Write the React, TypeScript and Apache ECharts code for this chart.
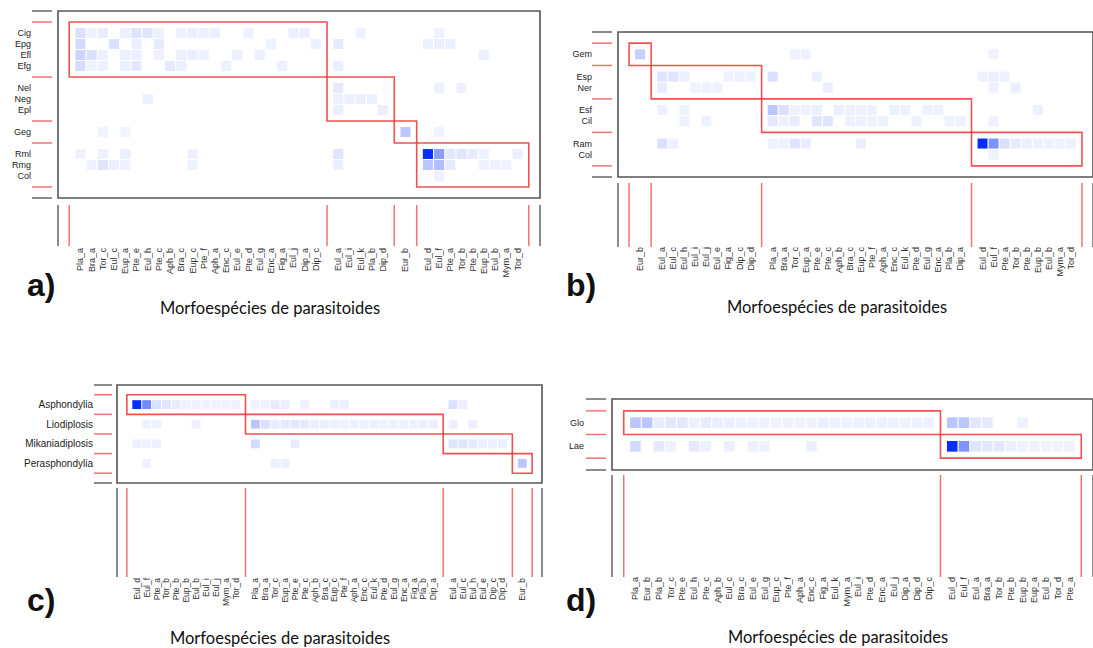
import React, { useEffect, useRef } from "react";
import * as echarts from "echarts";

// ---------------- Panel a ----------------
const aRowGroups: string[][] = [
  ["Cig", "Epg", "Efl", "Efg"],
  ["Nel", "Neg", "Epl"],
  ["Geg"],
  ["Rml", "Rmg", "Col"],
];
const aColGroups: string[][] = [
  ["Pla_a", "Bra_a", "Tor_c", "Eul_c", "Eup_a", "Pte_e", "Eul_h", "Pte_c", "Aph_b", "Bra_c", "Eup_c", "Pte_f", "Aph_a", "Enc_c", "Eul_e", "Pte_d", "Eul_g", "Enc_a", "Fig_a", "Eul_j", "Dip_a", "Dip_c"],
  ["Eul_a", "Eul_i", "Eul_k", "Pla_b", "Dip_d"],
  ["Eur_b"],
  ["Eul_d", "Eul_f", "Pte_a", "Tor_b", "Pte_b", "Eup_b", "Eul_b", "Mym_a", "Tor_d"],
];
// [column index, relative interaction intensity %]
const aLinks: Record<string, [number, number][]> = {
  Cig: [[0, 12], [1, 4], [2, 6], [4, 5], [5, 10], [6, 10], [7, 4], [9, 4], [10, 5], [11, 5], [12, 5], [15, 4], [19, 5], [20, 5], [24, 4], [29, 3]],
  Epg: [[0, 15], [3, 12], [5, 5], [7, 7], [17, 4], [21, 5], [22, 7], [28, 5], [29, 5], [30, 5]],
  Efl: [[0, 18], [1, 12], [2, 4], [4, 5], [5, 5], [7, 4], [9, 5], [10, 5], [11, 4], [14, 5], [16, 5], [33, 5]],
  Efg: [[0, 14], [1, 4], [2, 4], [4, 5], [5, 8], [8, 7], [9, 5], [13, 4], [18, 4], [22, 5]],
  Nel: [[22, 7], [29, 4], [31, 4]],
  Neg: [[6, 5], [22, 4], [23, 5], [24, 5], [25, 5]],
  Epl: [[22, 5], [26, 5]],
  Geg: [[2, 3], [4, 3], [27, 25], [29, 3]],
  Rml: [[0, 3], [2, 4], [4, 5], [10, 4], [22, 10], [28, 100], [29, 45], [30, 8], [31, 10], [32, 6], [33, 4], [36, 5]],
  Rmg: [[1, 3], [2, 10], [3, 5], [4, 4], [10, 4], [22, 5], [28, 25], [29, 30], [30, 7], [33, 3], [34, 4], [35, 3]],
  Col: [[29, 4]],
};

// ---------------- Panel b ----------------
const bRowGroups: string[][] = [["Gem"], ["Esp", "Ner"], ["Esf", "Cil"], ["Ram", "Col"]];
const bColGroups: string[][] = [
  ["Eur_b"],
  ["Eul_a", "Eul_c", "Eul_h", "Eul_i", "Eul_j", "Eul_e", "Fig_a", "Dip_c", "Dip_d"],
  ["Pla_a", "Bra_a", "Tor_c", "Eup_a", "Pte_e", "Pte_c", "Aph_b", "Bra_c", "Eup_c", "Pte_f", "Aph_a", "Enc_c", "Eul_k", "Pte_d", "Eul_g", "Enc_a", "Pla_b", "Dip_a"],
  ["Eul_d", "Eul_f", "Pte_a", "Tor_b", "Pte_b", "Eup_b", "Eul_b", "Mym_a", "Tor_d"],
];
const bLinks: Record<string, [number, number][]> = {
  Gem: [[0, 20], [12, 4], [13, 4], [29, 3]],
  Esp: [[1, 10], [2, 10], [3, 5], [7, 4], [8, 4], [9, 4], [10, 12], [14, 5], [28, 4], [29, 5], [30, 4]],
  Ner: [[1, 6], [4, 4], [5, 4], [6, 4], [15, 5], [29, 4], [31, 5]],
  Esf: [[1, 4], [3, 4], [10, 25], [11, 12], [12, 4], [13, 4], [14, 5], [16, 5], [17, 4], [18, 4], [19, 4], [21, 4], [22, 4], [24, 4], [25, 4], [33, 4]],
  Cil: [[3, 4], [5, 4], [10, 8], [11, 4], [12, 6], [14, 10], [15, 10], [17, 4], [18, 4], [19, 4], [20, 4], [23, 4], [26, 4], [27, 4], [29, 4]],
  Ram: [[1, 12], [2, 4], [10, 4], [11, 4], [12, 10], [13, 6], [18, 5], [28, 100], [29, 50], [30, 12], [31, 7], [32, 5], [33, 4], [34, 4], [35, 4], [36, 4]],
  Col: [[29, 4]],
};

// ---------------- Panel c ----------------
const cRowGroups: string[][] = [["Asphondylia"], ["Liodiplosis"], ["Mikaniadiplosis"], ["Perasphondylia"]];
const cColGroups: string[][] = [
  ["Eul_d", "Eul_f", "Pte_a", "Tor_b", "Pte_b", "Eup_b", "Eul_b", "Eul_i", "Eul_j", "Mym_a", "Tor_d"],
  ["Pla_a", "Bra_a", "Tor_c", "Eup_a", "Pte_e", "Pte_c", "Aph_b", "Bra_c", "Eup_c", "Pte_f", "Aph_a", "Enc_c", "Eul_k", "Pte_d", "Eul_g", "Enc_a", "Fig_a", "Pla_b", "Dip_a"],
  ["Eul_a", "Eul_c", "Eul_h", "Eul_e", "Dip_c", "Dip_d"],
  ["Eur_b"],
];
const cLinks: Record<string, [number, number][]> = {
  Asphondylia: [[0, 100], [1, 55], [2, 12], [3, 10], [4, 6], [5, 4], [6, 4], [7, 4], [8, 4], [9, 4], [10, 4], [11, 4], [12, 4], [13, 7], [14, 5], [16, 4], [19, 5], [20, 5], [30, 12], [31, 5]],
  Liodiplosis: [[1, 4], [2, 4], [6, 4], [11, 25], [12, 12], [13, 6], [14, 7], [15, 8], [16, 7], [17, 5], [18, 5], [19, 4], [20, 4], [21, 4], [22, 4], [23, 4], [24, 4], [25, 4], [26, 4], [27, 4], [28, 5], [29, 5], [30, 5], [32, 5]],
  Mikaniadiplosis: [[0, 4], [1, 4], [2, 5], [11, 15], [15, 6], [30, 10], [31, 10], [32, 7], [33, 5], [34, 5], [35, 5]],
  Perasphondylia: [[1, 4], [13, 5], [14, 5], [36, 25]],
};

// ---------------- Panel d ----------------
const dRowGroups: string[][] = [["Glo"], ["Lae"]];
const dColGroups: string[][] = [
  ["Pla_a", "Eur_b", "Pla_b", "Tor_c", "Pte_e", "Eul_h", "Pte_c", "Aph_b", "Eul_c", "Bra_c", "Eul_e", "Eul_g", "Eup_c", "Pte_f", "Aph_a", "Enc_c", "Fig_a", "Eul_k", "Mym_a", "Eul_i", "Pte_d", "Enc_a", "Eul_j", "Dip_a", "Dip_d", "Dip_c"],
  ["Eul_d", "Eul_f", "Eul_a", "Bra_a", "Tor_b", "Pte_b", "Eup_b", "Eup_a", "Eul_b", "Tor_d", "Pte_a"],
];
const dLinks: Record<string, [number, number][]> = {
  Glo: [[0, 25], [1, 25], [2, 6], [3, 8], [4, 8], [5, 4], [6, 6], [7, 5], [8, 5], [9, 4], [10, 4], [11, 3], [12, 3], [13, 3], [14, 3], [15, 3], [16, 5], [17, 4], [18, 4], [19, 4], [20, 4], [21, 4], [22, 4], [23, 4], [24, 4], [25, 4], [26, 25], [27, 25], [28, 8], [29, 7], [32, 4]],
  Lae: [[0, 15], [2, 7], [3, 4], [5, 7], [6, 4], [8, 5], [10, 4], [11, 4], [15, 5], [26, 100], [27, 50], [28, 10], [29, 8], [30, 8], [31, 5], [32, 3], [33, 3], [34, 3], [35, 3], [36, 3]],
};

const TAGS = ["a)", "b)", "c)", "d)"];
const X_TITLE = "Morfoespécies de parasitoides";

type PanelCfg = {
  rowGroups: string[][];
  colGroups: string[][];
  links: Record<string, [number, number][]>;
  grid: { left: number; top: number; width: number; height: number };
  rowFont: number;
  colFont: number;
  rowMargin: number;
  colMargin: number;
  leftTick: [number, number];
  bottomTick: [number, number];
  tagPos: [number, number];
  titlePos: [number, number];
};

const PANELS: PanelCfg[] = [
  {
    rowGroups: aRowGroups, colGroups: aColGroups, links: aLinks,
    grid: { left: 58, top: 11, width: 482, height: 187 },
    rowFont: 9, colFont: 9, rowMargin: 27, colMargin: 50,
    leftTick: [-26, -6], bottomTick: [7, 48], tagPos: [27, 285], titlePos: [270, 308],
  },
  {
    rowGroups: bRowGroups, colGroups: bColGroups, links: bLinks,
    grid: { left: 618, top: 32, width: 481, height: 145 },
    rowFont: 9, colFont: 9, rowMargin: 26, colMargin: 70,
    leftTick: [-26, -6], bottomTick: [6, 70], tagPos: [566, 285], titlePos: [837, 307],
  },
  {
    rowGroups: cRowGroups, colGroups: cColGroups, links: cLinks,
    grid: { left: 117, top: 385, width: 425, height: 98 },
    rowFont: 10, colFont: 8.5, rowMargin: 24, colMargin: 95,
    leftTick: [-23, -5], bottomTick: [5, 94], tagPos: [27, 600], titlePos: [280, 638],
  },
  {
    rowGroups: dRowGroups, colGroups: dColGroups, links: dLinks,
    grid: { left: 612, top: 399, width: 512, height: 71 },
    rowFont: 9, colFont: 9, rowMargin: 28, colMargin: 107,
    leftTick: [-26, -6], bottomTick: [5, 107], tagPos: [566, 600], titlePos: [838, 637],
  },
];

const RED_BOX = "rgba(236,50,50,0.85)";
const RED_TICK = "rgba(240,90,90,0.85)";
const GRAY = "#666";
const FRAME = "#555";
const LABEL_FONT = "Liberation Sans";

function layoutSlots(groups: string[][]) {
  const labels: Record<number, string> = {};
  const edges: number[] = [0];
  const pos: number[] = [];
  let s = 0;
  groups.forEach((g) => {
    g.forEach((name) => {
      s += 1;
      labels[s] = name;
      pos.push(s);
    });
    s += 1;
    edges.push(s);
  });
  return { labels, edges, pos, last: s };
}

function cellColor(v: number) {
  const t0 = Math.max(0, Math.min(1, v / 100));
  const t = t0 > 0 ? 0.03 + 0.97 * t0 : 0;
  const r = Math.round(255 - t * 250);
  const g = Math.round(255 - t * 210);
  return `rgb(${r},${g},255)`;
}

function buildOption() {
  const grids: any[] = [];
  const xAxes: any[] = [];
  const yAxes: any[] = [];
  const series: any[] = [];
  const graphic: any[] = [];

  PANELS.forEach((cfg, i) => {
    const xs = layoutSlots(cfg.colGroups);
    const ys = layoutSlots(cfg.rowGroups);
    const rowSlot: Record<string, number> = {};
    cfg.rowGroups.flat().forEach((name, k) => (rowSlot[name] = ys.pos[k]));
    const xMax = xs.last + 1;
    const yMax = ys.last + 1;

    grids.push({
      ...cfg.grid,
      show: true,
      borderColor: FRAME,
      borderWidth: 1.6,
      backgroundColor: "transparent",
    });
    xAxes.push({
      gridIndex: i,
      type: "value",
      min: -1,
      max: xMax,
      interval: 1,
      axisLine: { show: false },
      axisTick: { show: false },
      splitLine: { show: false },
      axisLabel: {
        rotate: 90,
        margin: cfg.colMargin,
        fontSize: cfg.colFont,
        fontFamily: LABEL_FONT,
        color: "#333",
        formatter: (v: number) => xs.labels[Math.round(v)] ?? "",
      },
    });
    yAxes.push({
      gridIndex: i,
      type: "value",
      inverse: true,
      min: -1,
      max: yMax,
      interval: 1,
      axisLine: { show: false },
      axisTick: { show: false },
      splitLine: { show: false },
      axisLabel: {
        margin: cfg.rowMargin,
        fontSize: cfg.rowFont,
        fontFamily: LABEL_FONT,
        color: "#222",
        formatter: (v: number) => ys.labels[Math.round(v)] ?? "",
      },
    });

    const cells: number[][] = [];
    Object.keys(cfg.links).forEach((row) => {
      cfg.links[row].forEach(([c, v]) => cells.push([xs.pos[c], rowSlot[row], v]));
    });
    series.push({
      type: "custom",
      xAxisIndex: i,
      yAxisIndex: i,
      silent: true,
      z: 2,
      encode: { x: 0, y: 1 },
      data: cells,
      renderItem: (_p: any, api: any) => {
        const c = api.coord([api.value(0), api.value(1)]);
        const sz = api.size([1, 1]);
        const w = sz[0] * 0.9;
        const h = sz[1] * 0.9;
        return {
          type: "rect",
          shape: { x: c[0] - w / 2, y: c[1] - h / 2, width: w, height: h },
          style: { fill: cellColor(api.value(2)) },
        };
      },
    });

    const modules = cfg.colGroups.map((_, k) => [xs.edges[k], ys.edges[k], xs.edges[k + 1], ys.edges[k + 1]]);
    series.push({
      type: "custom",
      xAxisIndex: i,
      yAxisIndex: i,
      silent: true,
      z: 3,
      encode: { x: [0, 2], y: [1, 3] },
      data: modules,
      renderItem: (_p: any, api: any) => {
        const p0 = api.coord([api.value(0), api.value(1)]);
        const p1 = api.coord([api.value(2), api.value(3)]);
        return {
          type: "rect",
          shape: {
            x: Math.min(p0[0], p1[0]),
            y: Math.min(p0[1], p1[1]),
            width: Math.abs(p1[0] - p0[0]),
            height: Math.abs(p1[1] - p0[1]),
          },
          style: { fill: "none", stroke: RED_BOX, lineWidth: 1.6 },
        };
      },
    });

    series.push({
      type: "custom",
      xAxisIndex: i,
      yAxisIndex: i,
      silent: true,
      clip: false,
      z: 4,
      encode: { x: 0, y: 1 },
      data: [[0, 0]],
      renderItem: (_p: any, api: any) => {
        const tl = api.coord([-1, -1]);
        const br = api.coord([xMax, yMax]);
        const fl = tl[0];
        const ft = Math.min(tl[1], br[1]);
        const fr = br[0];
        const fb = Math.max(tl[1], br[1]);
        const children: any[] = [];
        const line = (x1: number, y1: number, x2: number, y2: number, stroke: string) =>
          children.push({ type: "line", shape: { x1, y1, x2, y2 }, style: { stroke, lineWidth: 1.5 } });
        const lx0 = fl + cfg.leftTick[0];
        const lx1 = fl + cfg.leftTick[1];
        line(lx0, ft, lx1, ft, GRAY);
        line(lx0, fb, lx1, fb, GRAY);
        ys.edges.forEach((e) => {
          const y = api.coord([0, e])[1];
          line(lx0, y, lx1, y, RED_TICK);
        });
        const by0 = fb + cfg.bottomTick[0];
        const by1 = fb + cfg.bottomTick[1];
        line(fl, by0, fl, by1, GRAY);
        line(fr, by0, fr, by1, GRAY);
        xs.edges.forEach((e) => {
          const x = api.coord([e, 0])[0];
          line(x, by0, x, by1, RED_TICK);
        });
        return { type: "group", children };
      },
    });

    graphic.push({
      type: "text",
      x: cfg.tagPos[0],
      y: cfg.tagPos[1],
      style: {
        text: TAGS[i],
        fontSize: 32,
        fontWeight: "bold",
        fontFamily: LABEL_FONT,
        fill: "#111",
        align: "left",
        verticalAlign: "middle",
      },
    });
    graphic.push({
      type: "text",
      x: cfg.titlePos[0],
      y: cfg.titlePos[1],
      style: {
        text: X_TITLE,
        fontSize: 16.5,
        fontFamily: "Lato",
        fill: "#111",
        align: "center",
        verticalAlign: "middle",
      },
    });
  });

  return {
    animation: false,
    backgroundColor: "#fff",
    grid: grids,
    xAxis: xAxes,
    yAxis: yAxes,
    series,
    graphic,
  };
}

export default function App() {
  const ref = useRef<HTMLDivElement>(null);
  useEffect(() => {
    document.body.style.margin = "0";
    if (!ref.current) return;
    const chart = echarts.init(ref.current, null, { renderer: "svg" });
    chart.setOption(buildOption() as any);
    return () => chart.dispose();
  }, []);
  return <div ref={ref} style={{ width: 1093, height: 648, overflow: "hidden" }} />;
}
